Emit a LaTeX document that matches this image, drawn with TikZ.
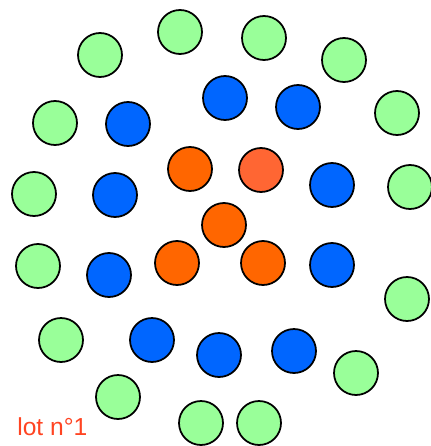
\documentclass[tikz,border=0pt]{standalone}
\usepackage{fontspec}
\setsansfont{Liberation Sans}
\usepackage{tikz}
\usepackage{xcolor}
\usetikzlibrary{positioning}
\definecolor{lotgreen}{HTML}{99FF99}
\definecolor{lotblue}{HTML}{0066FF}
\definecolor{lotorange}{HTML}{FF6600}
\definecolor{lotlight}{HTML}{FF6633}
\definecolor{lotlabel}{HTML}{FF4422}
\tikzset{
  every picture/.append style={line cap=round,line join=round},
  lot ball/.style={circle,draw=black,line width=1pt,minimum size=0.88cm,inner sep=0pt},
  lot green/.style={lot ball,fill=lotgreen},
  lot blue/.style={lot ball,fill=lotblue},
  lot orange/.style={lot ball,fill=lotorange},
  lot light/.style={lot ball,fill=lotlight},
  lot note/.style={text=lotlabel,font=\sffamily\fontsize{14}{16}\selectfont,inner sep=0pt}
}

\begin{document}
\begin{tikzpicture}[x=0.02cm,y=-0.02cm]
\useasboundingbox (0,0) rectangle (430,446);
% outer ring
\node[lot green] (g1) at (100,55) {};
\node[lot green] (g2) at (180,32) {};
\node[lot green] (g3) at (264,38) {};
\node[lot green] (g4) at (344,60) {};
\node[lot green] (g5) at (55,123) {};
\node[lot green] (g6) at (397,113) {};
\node[lot green] (g7) at (34,194) {};
\node[lot green] (g8) at (410,187) {};
\node[lot green] (g9) at (38,266) {};
\node[lot green] (g10) at (407,299) {};
\node[lot green] (g11) at (61,340) {};
\node[lot green] (g12) at (356,373) {};
\node[lot green] (g13) at (118,397) {};
\node[lot green] (g14) at (201,423) {};
\node[lot green] (g15) at (259,423) {};
% middle ring
\node[lot blue] (b1) at (225,98) {};
\node[lot blue] (b2) at (298,107) {};
\node[lot blue] (b3) at (128,124) {};
\node[lot blue] (b4) at (115,195) {};
\node[lot blue] (b5) at (332,185) {};
\node[lot blue] (b6) at (109,275) {};
\node[lot blue] (b7) at (332,265) {};
\node[lot blue] (b8) at (152,340) {};
\node[lot blue] (b9) at (219,355) {};
\node[lot blue] (b10) at (294,351) {};
% centre
\node[lot orange] (o1) at (190,169) {};
\node[lot light] (o2) at (261,170) {};
\node[lot orange] (o3) at (224,225) {};
\node[lot orange] (o4) at (177,263) {};
\node[lot orange] (o5) at (263,263) {};
\node[lot note,anchor=base west] (lot) at (17,435) {lot n°1};
\end{tikzpicture}
\end{document}
